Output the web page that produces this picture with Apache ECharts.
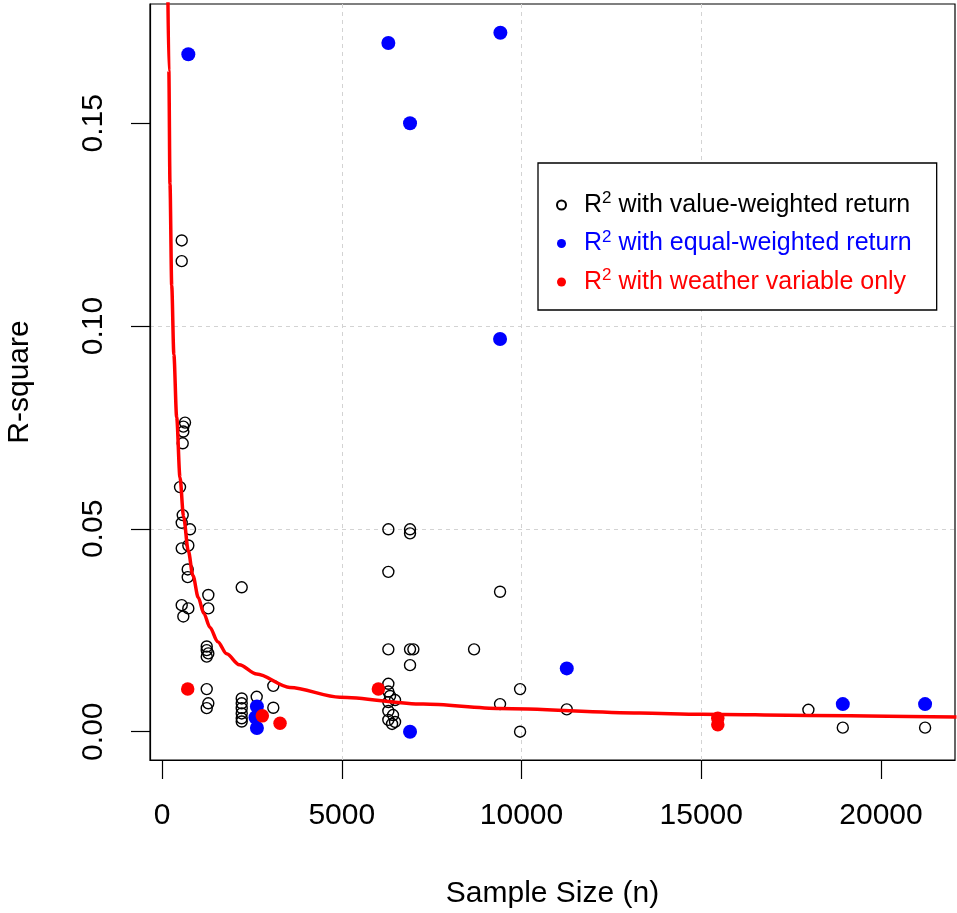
<!DOCTYPE html>
<html>
<head>
<meta charset="utf-8">
<script src="https://cdn.jsdelivr.net/npm/echarts@6/dist/echarts.min.js"></script>
<style>
html,body{margin:0;padding:0;background:#fff;}
#chart{width:957px;height:913px;}
</style>
</head>
<body>
<div id="chart"></div>
<script>
// ---- Data ----
// R^2 with value-weighted return (open black circles)
const vwN  = [548,548,640,593,593,576,501,576,548,779,732,548,715,715,2217,1288,6296,6899,6899,6296,
              548,732,593,1288,1244,1244,1288,1244,1244,1288,1244,
              2217,2217,2217,2217,2217,2217,2634,3096,3096,
              6296,6899,6992,6899,6296,6296,6343,6296,6482,6296,6426,6296,6482,6399,
              9403,8680,9960,9403,11259,9960,17980,18937,21226];
const vwR2 = [0.1211,0.1160,0.0762,0.0752,0.0740,0.0711,0.0603,0.0534,0.0515,0.0499,0.0459,0.0452,0.0400,0.0381,0.0356,0.0337,0.0499,0.0499,0.0489,0.0394,
              0.0312,0.0304,0.0284,0.0304,0.0210,0.0201,0.0193,0.0185,0.0105,0.0070,0.0058,
              0.0082,0.0070,0.0058,0.0045,0.0033,0.0025,0.0086,0.0113,0.0059,
              0.0203,0.0203,0.0203,0.0164,0.0118,0.0099,0.0088,0.0073,0.0078,0.0051,0.0041,0.0029,0.0024,0.0019,
              0.0345,0.0203,0.0105,0.0068,0.0055,0.0000,0.0054,0.0010,0.0010];
// R^2 with equal-weighted return (blue filled)
const ewN  = [732,6296,9412,6899,9403,11259,6899,18937,21226,2640,2600,2640];
const ewR2 = [0.1670,0.1698,0.1723,0.1500,0.0968,0.0156,0.0000,0.0068,0.0068,0.0062,0.0035,0.0009];
// R^2 with weather variable only (red filled)
const wN  = [715,2790,3283,6018,15460,15460];
const wR2 = [0.0105,0.0039,0.0021,0.0105,0.0033,0.0017];
// Fitted red curve
const fitN  = [160,190,222,270,330,408,500,600,731,860,1009,1160,1334,1550,1798,2150,2633,3558,4948,7265,9400,13290,15000,18000,22100];
const fitR2 = [0.185,0.163,0.135,0.110,0.093,0.0775,0.0627,0.053,0.0446,0.0385,0.0331,0.0292,0.0257,0.0222,0.0192,0.0165,0.0142,0.0109,0.0085,0.0068,0.0057,0.0046,0.0043,0.0040,0.0036];
// Axis ticks
const xTicks = [0,5000,10000,15000,20000];
const yTicks = [0,0.05,0.10,0.15];
const yTickLabels = ['0.00','0.05','0.10','0.15'];
const legendNames = ['vw','ew','wx'];
const legendTexts = ['with value-weighted return','with equal-weighted return','with weather variable only'];

const zip = (a,b) => a.map((v,i)=>[v,b[i]]);
const FONT = "'Liberation Sans', Arial, sans-serif";

const chart = echarts.init(document.getElementById('chart'), null, {renderer:'canvas'});
chart.setOption({
  animation:false,
  backgroundColor:'#fff',
  grid:{left:150,right:2,top:4,bottom:153,containLabel:false,outerBoundsMode:'none',
        show:true,borderColor:'#000',borderWidth:1.2,backgroundColor:'transparent'},
  xAxis:{
    type:'value', min:-334, max:22058,
    name:'Sample Size (n)', nameLocation:'middle', nameGap:119,
    nameTextStyle:{fontFamily:FONT,fontSize:30,color:'#000'},
    axisLine:{show:true,onZero:false,lineStyle:{color:'#000',width:1.2}},
    axisTick:{show:true,length:19,lineStyle:{color:'#000',width:1.2},customValues:xTicks},
    axisLabel:{fontFamily:FONT,fontSize:30,color:'#000',margin:41,customValues:xTicks,
               formatter:(v)=>String(Math.round(v))},
    splitLine:{show:true,showMinLine:false,showMaxLine:false,lineStyle:{color:'#D3D3D3',type:[4,4],width:1}}
  },
  yAxis:{
    type:'value', min:-0.00698, max:0.1794,
    name:'R-square', nameLocation:'middle', nameGap:115,
    nameTextStyle:{fontFamily:FONT,fontSize:30,color:'#000'},
    axisLine:{show:true,onZero:false,lineStyle:{color:'#000',width:1.2}},
    axisTick:{show:true,length:19,lineStyle:{color:'#000',width:1.2},customValues:yTicks},
    axisLabel:{fontFamily:FONT,fontSize:30,color:'#000',margin:41,rotate:90,customValues:yTicks,
               formatter:(v)=>{const i=yTicks.findIndex(t=>Math.abs(t-v)<1e-9);return i>=0?yTickLabels[i]:'';}},
    splitLine:{show:true,showMinLine:false,showMaxLine:false,lineStyle:{color:'#D3D3D3',type:[4,4],width:1}}
  },
  legend:{
    orient:'vertical', left:538, top:163,
    padding:[27,25,13,18],
    backgroundColor:'#fff', borderColor:'#000', borderWidth:1.3, borderRadius:0,
    itemWidth:9, itemHeight:9, itemGap:8.5,
    selectedMode:false,
    data:[
      {name:'vw',textStyle:{color:'#000'}},
      {name:'ew',textStyle:{color:'#0000FF'}},
      {name:'wx',textStyle:{color:'#FF0000'}}
    ],
    formatter:(name)=>{const i=legendNames.indexOf(name);return '{a|R}{s|2}{b| '+legendTexts[i]+'}';},
    textStyle:{fontFamily:FONT,fontSize:25,lineHeight:30,
      rich:{
        a:{fontFamily:FONT,fontSize:25,lineHeight:30,padding:[0,0,0,13]},
        s:{fontFamily:FONT,fontSize:17,lineHeight:17,verticalAlign:'top'},
        b:{fontFamily:FONT,fontSize:25,lineHeight:30}
      }}
  },
  series:[
    {name:'vw',type:'scatter',data:zip(vwN,vwR2),symbol:'circle',symbolSize:11,
     itemStyle:{color:'rgba(0,0,0,0)',borderColor:'#000',borderWidth:1.4,opacity:1},z:2},
    {name:'ew',type:'scatter',data:zip(ewN,ewR2),symbol:'circle',symbolSize:14,
     itemStyle:{color:'#0000FF',opacity:1},z:3},
    {name:'wx',type:'scatter',data:zip(wN,wR2),symbol:'circle',symbolSize:13.5,
     itemStyle:{color:'#FF0000',opacity:1},z:4},
    {name:'fit',type:'line',data:zip(fitN,fitR2),showSymbol:false,smooth:0.3,smoothMonotone:'x',
     lineStyle:{color:'#FF0000',width:3.5},z:5,clip:true}
  ]
});
</script>
</body>
</html>
